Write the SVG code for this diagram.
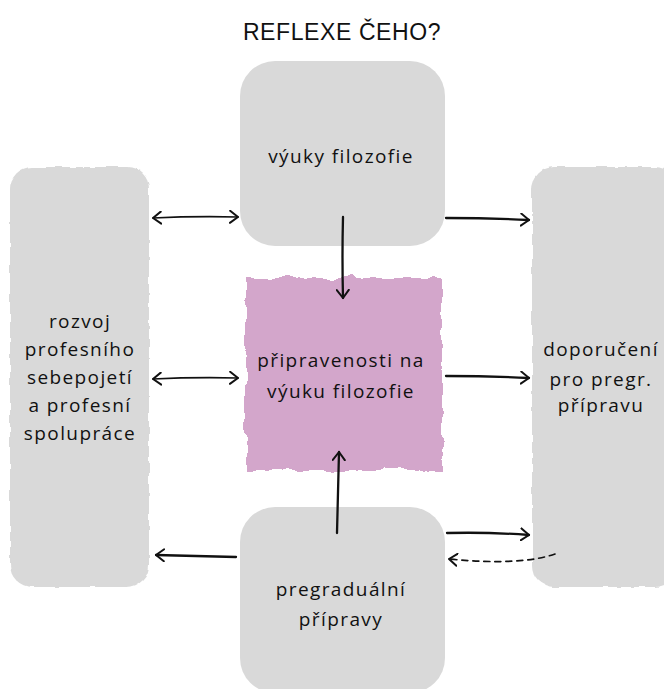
<svg xmlns="http://www.w3.org/2000/svg" width="664" height="689" viewBox="0 0 664 689">
<style>
.box{fill:#d9d9d9}
.lbl{font-family:"Open Sans","Liberation Sans",sans-serif;font-size:19px;fill:#111;text-anchor:middle;letter-spacing:1.4px}
.title{font-family:"Liberation Sans",sans-serif;font-size:23px;fill:#111;text-anchor:middle;letter-spacing:0.6px}
.con{fill:none;stroke:#111;stroke-width:2.3;stroke-linecap:round}
.thin{stroke-width:1.6}
.dash{stroke-width:1.7;stroke-dasharray:6 5}
</style>
<defs>
<filter id="rough" x="-5%" y="-5%" width="110%" height="110%">
<feTurbulence type="fractalNoise" baseFrequency="0.08" numOctaves="2" seed="3"/>
<feDisplacementMap in="SourceGraphic" scale="4" xChannelSelector="R" yChannelSelector="G"/>
</filter>
<filter id="brush" x="-8%" y="-8%" width="116%" height="116%">
<feTurbulence type="fractalNoise" baseFrequency="0.05" numOctaves="3" seed="7"/>
<feDisplacementMap in="SourceGraphic" scale="10" xChannelSelector="R" yChannelSelector="G"/>
</filter>
<marker id="ah" viewBox="0 0 10 14" refX="9" refY="7" markerWidth="10" markerHeight="14" markerUnits="userSpaceOnUse" orient="auto-start-reverse">
<path d="M1,1 L9,7 L1,13" fill="none" stroke="#111" stroke-width="2" stroke-linecap="round" stroke-linejoin="round"/>
</marker>
</defs>
<rect width="664" height="689" fill="#fff"/>
<text class="title" x="342" y="40">REFLEXE ČEHO?</text>

<g id="node-vyuka">
<rect class="box" x="240" y="61" width="205" height="185" rx="35"/>
<text class="lbl" x="341" y="163">výuky filozofie</text>
</g>
<g id="node-rozvoj">
<rect class="box" x="10" y="167" width="139" height="420" rx="22" filter="url(#rough)"/>
<text class="lbl" x="80" y="328">rozvoj</text>
<text class="lbl" x="80" y="356">profesního</text>
<text class="lbl" x="80" y="384">sebepojetí</text>
<text class="lbl" x="80" y="412">a profesní</text>
<text class="lbl" x="80" y="440">spolupráce</text>
</g>
<g id="node-doporuceni">
<rect class="box" x="532" y="167" width="145" height="420" rx="22" filter="url(#rough)"/>
<text class="lbl" x="601" y="356">doporučení</text>
<text class="lbl" x="601" y="386">pro pregr.</text>
<text class="lbl" x="601" y="412">přípravu</text>
</g>
<g id="node-pripravenost">
<rect x="246" y="278" width="196" height="192" fill="#d3a6cb" filter="url(#brush)"/>
<text class="lbl" x="341" y="367">připravenosti na</text>
<text class="lbl" x="341" y="398">výuku filozofie</text>
</g>
<g id="node-pregradualni">
<rect class="box" x="240" y="507" width="205" height="186" rx="35"/>
<text class="lbl" x="341" y="596">pregraduální</text>
<text class="lbl" x="341" y="626">přípravy</text>
</g>

<g id="connectors">
<path class="con thin" d="M153,218 Q195,216 238,217" marker-start="url(#ah)" marker-end="url(#ah)"/>
<path class="con" d="M446,218 Q490,218 529,220" marker-end="url(#ah)"/>
<path class="con" d="M343,217 Q342,258 343,298" marker-end="url(#ah)"/>
<path class="con thin" d="M153,379 Q195,377 238,378" marker-start="url(#ah)" marker-end="url(#ah)"/>
<path class="con" d="M446,376 Q490,376 529,378" marker-end="url(#ah)"/>
<path class="con" d="M337,533 Q338,492 339,452" marker-end="url(#ah)"/>
<path class="con" d="M236,557 Q195,556 156,555" marker-end="url(#ah)"/>
<path class="con" d="M447,533 Q490,532 529,535" marker-end="url(#ah)"/>
<path class="con dash" d="M555,554 Q520,566 449,559" marker-end="url(#ah)"/>
</g>
</svg>
